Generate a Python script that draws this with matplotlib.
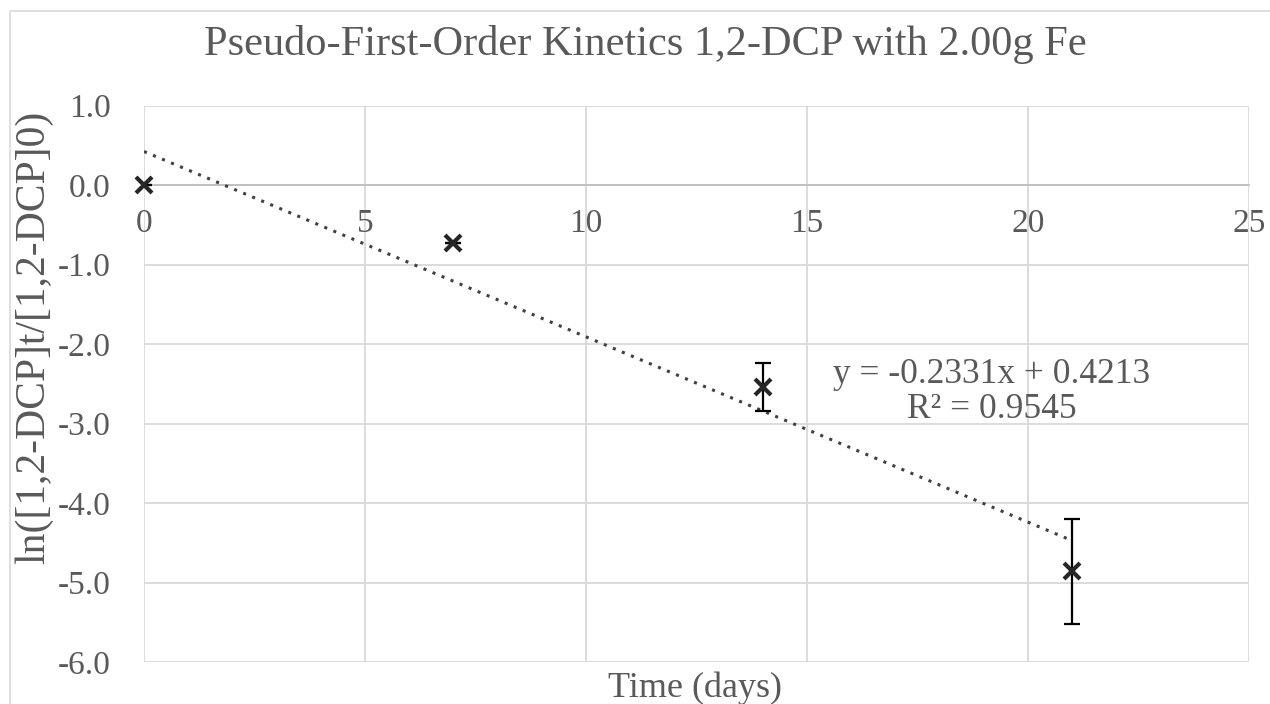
import matplotlib
matplotlib.use("Agg")
import matplotlib.pyplot as plt
from matplotlib.patches import Rectangle
import numpy as np

plt.rcParams['font.family'] = ['Liberation Serif', 'DejaVu Serif']

TEXT = '#595959'
GRID = '#d9d9d9'

# measurements: time (days), ln(C/C0), error bar half-widths
days = [0, 7, 14, 21]
ln_ratio = [0.0, -0.73, -2.54, -4.86]
ln_err = [0.0, 0.0, 0.30, 0.66]

# linear trendline reported on the chart
slope = -0.2331
intercept = 0.4213
r_squared = 0.9545

y_ticks = [1.0, 0.0, -1.0, -2.0, -3.0, -4.0, -5.0, -6.0]
x_ticks = [0, 5, 10, 15, 20, 25]

fig = plt.figure(figsize=(12.7, 7.04), dpi=100)
fig.patch.set_facecolor('white')
# outer chart-area frame
fig.patches.append(Rectangle((10 / 1270, -0.1), 1.2, 1 - 11 / 704 + 0.1,
                             transform=fig.transFigure, fill=False,
                             edgecolor=GRID, linewidth=1.2))

ax = fig.add_axes([144 / 1270, 1 - 662 / 704, (1249 - 144) / 1270, (662 - 105.5) / 704])
ax.set_xlim(0, 25)
ax.set_ylim(-6, 1)
ax.set_yticks(y_ticks)
ax.set_yticklabels([f"{v:.1f}" for v in y_ticks])
ax.set_xticks(x_ticks)
ax.set_xticklabels([str(v) for v in x_ticks])

ax.grid(True, color=GRID, linewidth=1.3)
ax.set_axisbelow(True)
for side in ['top', 'right', 'left']:
    ax.spines[side].set_visible(False)
ax.spines['bottom'].set_position(('data', 0))
ax.spines['bottom'].set_color('#bfbfbf')
ax.spines['bottom'].set_linewidth(1.3)
ax.tick_params(axis='both', length=0, colors=TEXT, labelsize=24)
ax.tick_params(axis='x', pad=17)
ax.tick_params(axis='y', pad=24)

# trendline
xt = np.array([days[0], days[-1]])
ax.plot(xt, slope * xt + intercept, linestyle=(0, (1, 2.2)), color='#404040',
        linewidth=2.2, zorder=3)

# data with error bars
ax.errorbar(days, ln_ratio, yerr=ln_err, fmt='none', ecolor='black',
            elinewidth=1.6, capsize=6, capthick=1.6, zorder=4)
ax.plot(days, ln_ratio, linestyle='none', marker='x', markersize=11,
        markeredgewidth=3, color='#262626', zorder=5, clip_on=False)

ax.text((992 - 144) / 1105, (662 - 392) / 556.5,
        f"y = {slope:.4f}x + {intercept:.4f}\nR² = {r_squared:.4f}",
        transform=ax.transAxes, ha='center', va='center', fontsize=25.5,
        color=TEXT, linespacing=1.05, zorder=6)

fig.text(0.508, 0.937, "Pseudo-First-Order Kinetics 1,2-DCP with 2.00g Fe",
         ha='center', va='center', fontsize=30.5, color=TEXT)
fig.text(695 / 1270, 1 - 688 / 704, "Time (days)", ha='center', va='center',
         fontsize=26, color=TEXT)
fig.text(34 / 1270, 1 - 337 / 704, "ln([1,2-DCP]t/[1,2-DCP]0)", ha='center',
         va='center', rotation=90, fontsize=30, color=TEXT)

fig.savefig('out.png', dpi=100, facecolor='white')
